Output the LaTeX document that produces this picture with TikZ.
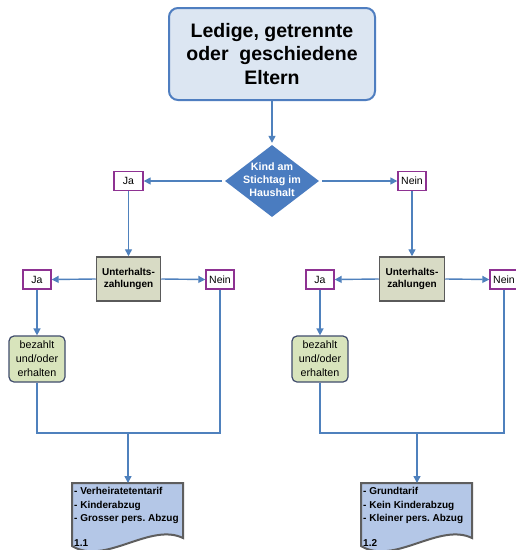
\documentclass[tikz,border=0pt]{standalone}
\usepackage{fontspec}
\setmainfont{Liberation Sans}
\usetikzlibrary{shapes.geometric,arrows.meta,calc}
\frenchspacing
\definecolor{conncol}{HTML}{4F81BD}
\definecolor{titlefill}{HTML}{DCE6F2}
\definecolor{titledraw}{HTML}{4F7EC0}
\definecolor{diafill}{HTML}{4A7CC0}
\definecolor{purp}{HTML}{8E3292}
\definecolor{ufill}{HTML}{D8DBC5}
\definecolor{udraw}{HTML}{5A5A5A}
\definecolor{bfill}{HTML}{D8E4BC}
\definecolor{bdraw}{HTML}{404C6C}
\definecolor{docfill}{HTML}{B4C7E7}
\definecolor{docdraw}{HTML}{5E5E5E}
\tikzset{
  conn/.style={draw=conncol, line width=1.4pt},
  arr/.style={conn, -{Triangle[length=7pt,width=7pt]}},
  titlebox/.style={draw=titledraw, fill=titlefill, line width=2pt, rounded corners=9pt,
    minimum width=206pt, minimum height=92pt, inner sep=0pt, align=center,
    font=\fontsize{19.5}{23.5}\selectfont\bfseries},
  diabox/.style={shape=diamond, fill=diafill, draw=none, minimum width=94pt,
    minimum height=72pt, inner sep=0pt, text=white,
    font=\fontsize{10.7}{13}\selectfont\bfseries},
  yn/.style={draw=purp, line width=1.4pt, fill=white, minimum width=28pt,
    minimum height=19pt, inner sep=0pt, font=\fontsize{10.5}{12}\selectfont},
  ubox/.style={draw=udraw, fill=ufill, line width=1.5pt, minimum width=64pt,
    minimum height=44pt, inner sep=0pt, align=center,
    font=\fontsize{10}{12.5}\selectfont\bfseries},
  bbox/.style={draw=bdraw, fill=bfill, rounded corners=5pt, line width=1.2pt,
    minimum width=56pt, minimum height=46pt, inner sep=0pt, align=center,
    font=\fontsize{10.7}{14}\selectfont},
  docshape/.style={draw=docdraw, fill=docfill, line width=2pt},
  doctext/.style={anchor=north west, inner xsep=2pt, inner ysep=4.5pt,
    align=left, font=\fontsize{10}{13.5}\selectfont\bfseries\frenchspacing},
  docnum/.style={anchor=base west, inner sep=0pt, font=\fontsize{10}{12}\selectfont\bfseries}
}
\begin{document}
\begin{tikzpicture}[x=1pt,y=-1pt]
\useasboundingbox (0,0) rectangle (516,550);
\clip (0,0) rectangle (516,550);
\fill[white] (0,0) rectangle (516,550);

% title and decision
\node[titlebox] (T) at (272,54) {Ledige, getrennte\\oder\ \ geschiedene\\Eltern};
\node[diabox] (d) at (272,181) {\smash{\makebox[0pt]{\raisebox{-2.6pt}{\begin{tabular}{@{}c@{}}Kind am\\Stichtag im\\Haushalt\end{tabular}}}}};
\node[yn, minimum width=29pt] (Ja1) at (128.5,181) {Ja};
\node[yn] (N1) at (412,181) {Nein};

% second level
\node[ubox] (U1) at (128.5,279) {Unterhalts-\\zahlungen};
\node[ubox, minimum width=65pt] (U2) at (412,279) {Unterhalts-\\zahlungen};
\node[yn] (Ja2) at (37,279.5) {Ja};
\node[yn] (N2) at (220,279.5) {Nein};
\node[yn] (Ja3) at (320,279.5) {Ja};
\node[yn] (N3) at (504,279.5) {Nein};

\node[bbox] (B1) at (37,359) {bezahlt\\und/oder\\erhalten};
\node[bbox] (B2) at (320,359) {bezahlt\\und/oder\\erhalten};

% documents
\draw[docshape] (72,483) -- (183,483) -- (183,538)
  .. controls (150,522) and (105,566) .. (72,546) -- cycle;
\draw[docshape] (361,483) -- (472,483) -- (472,538)
  .. controls (439,522) and (394,566) .. (361,546) -- cycle;
\node[doctext] (D1) at (72,483) {- Verheiratetentarif\\- Kinderabzug\\- Grosser pers. Abzug};
\node[doctext] (D2) at (361,483) {- Grundtarif\\- Kein Kinderabzug\\- Kleiner pers. Abzug};
\node[docnum] (D1n) at (74,546) {1.1};
\node[docnum] (D2n) at (363,546) {1.2};

% connectors
\draw[arr, shorten >=2pt] (T.south) -- (T.south |- d.north);
\draw[arr, shorten <=3pt] (d.west) -- (Ja1.east);
\draw[arr, shorten <=3pt] (d.east) -- (N1.west);
\draw[arr] (Ja1.south) -- (Ja1.south |- U1.north);
\draw[arr] (N1.south) -- (N1.south |- U2.north);
\draw[arr] (U1.west) -- (Ja2.east);
\draw[arr] (U1.east) -- (N2.west);
\draw[arr] (U2.west) -- (Ja3.east);
\draw[arr] (U2.east) -- (N3.west);
\draw[arr] (Ja2.south) -- (Ja2.south |- B1.north);
\draw[arr] (Ja3.south) -- (Ja3.south |- B2.north);

\coordinate (m1) at (128,433);
\coordinate (m2) at (417,433);
\draw[conn] (B1.south) |- (m1) -| (N2.south);
\draw[conn] (B2.south) |- (m2) -| (N3.south);
\draw[arr] (m1) -- (m1 |- D1.north);
\draw[arr] (m2) -- (m2 |- D2.north);
\end{tikzpicture}
\end{document}
